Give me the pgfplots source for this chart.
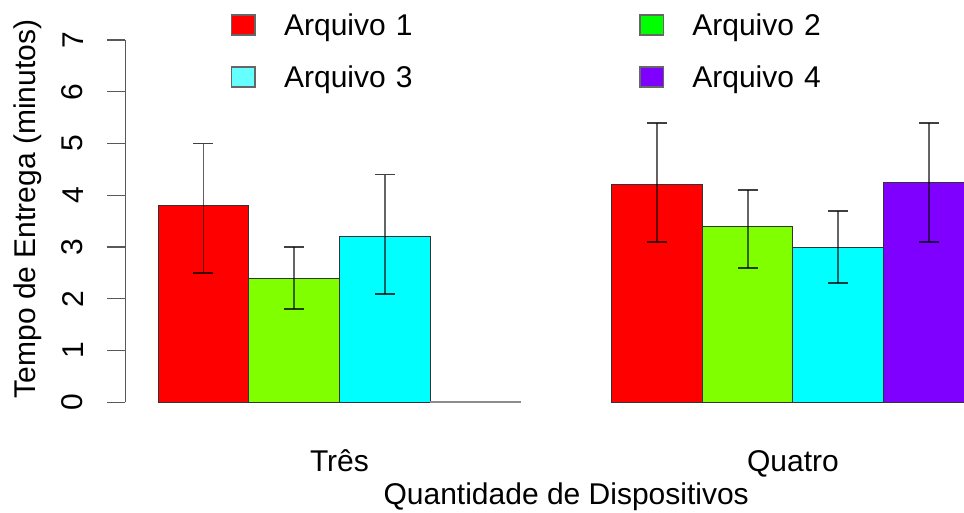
\documentclass[border=0pt]{standalone}
\usepackage{pgfplots}
\pgfplotsset{compat=1.18}
\usepackage{pgfplotstable}
\usepackage{fontspec}
\setmainfont{Liberation Sans}

% bar fills
\definecolor{barUm}{HTML}{FF0000}
\definecolor{barDois}{HTML}{80FF00}
\definecolor{barTres}{HTML}{00FFFF}
\definecolor{barQuatro}{HTML}{8000FF}
% legend key fills
\definecolor{legUm}{HTML}{FF0000}
\definecolor{legDois}{HTML}{00FF00}
\definecolor{legTres}{HTML}{66FFFF}
\definecolor{legQuatro}{HTML}{8000FF}

% x = bar centre, y = mean, ep / em = upper / lower error
\pgfplotstableread{
x   y    ep   em
1.5 3.8  1.2  1.3
6.5 4.2  1.2  1.1
}\arqUm
\pgfplotstableread{
x   y    ep   em
2.5 2.4  0.6  0.6
7.5 3.4  0.7  0.8
}\arqDois
\pgfplotstableread{
x   y    ep   em
3.5 3.2  1.2  1.1
8.5 3.0  0.7  0.7
}\arqTres
\pgfplotstableread{
x   y    ep   em
9.5 4.25 1.15 1.15
}\arqQuatro

\begin{document}
\begin{tikzpicture}[font=\fontsize{30bp}{36bp}\selectfont]
\useasboundingbox (0,0) rectangle (964bp,513bp);
\begin{axis}[
  at={(125.4bp,96.2bp)}, anchor=south west,
  scale only axis, width=881.6bp, height=391.3bp,
  xmin=0.64, xmax=10.36, ymin=-0.28, ymax=7.28,
  clip=false,
  axis line style={draw=none},
  xtick={3,8}, xticklabels={Três,Quatro},
  ytick={0,1,...,7},
  xtick pos=bottom, ytick pos=left,
  tick align=outside,
  major tick length=18bp,
  x tick style={draw=none},
  y tick style={draw=black!65, line width=1.3bp},
  /pgf/number format/assume math mode=true,
  tick label style={font=\fontsize{30bp}{36bp}\selectfont},
  yticklabel style={xshift=-24bp, rotate=90, anchor=south, inner sep=0pt},
  xticklabel style={anchor=base, yshift=-37bp, inner sep=0pt},
  xlabel={Quantidade de Dispositivos},
  ylabel={Tempo de Entrega (minutos)},
  label style={font=\fontsize{30bp}{36bp}\selectfont},
  xlabel style={at={(axis description cs:0.5,0)}, anchor=base, yshift=-87.7bp, inner sep=0pt},
  ylabel style={at={(axis description cs:-0.1019,0.5311)}, anchor=base, inner sep=0pt},
  legend columns=2,
  legend cell align=left,
  legend style={at={(axis description cs:0.1194,1.0288)}, anchor=north west,
    draw=none, fill=none, inner sep=0pt, row sep=30.2bp,
    font=\fontsize{30bp}{36bp}\selectfont,
    nodes={inner sep=0pt, anchor=west, text height=21.5bp, text depth=0bp,
           text width=355bp, align=left},
    /tikz/every odd column/.style={column sep=0pt},
    /tikz/every even column/.style={column sep=0pt}},
  legend image code/.code={
    \draw[#1, draw=black!60, line width=1.5bp] (0bp,-10bp) rectangle (23.6bp,10bp);
    \path (52.3bp,0bp);},
  barra/.style={ybar, bar width=1, bar shift=0pt, draw=black!80, line width=1bp, forget plot},
  erro/.style={error bars/.cd, y dir=both, y explicit, error mark=|,
    error bar style={draw=black, opacity=0.6, line width=1.8bp},
    error mark options={draw=black, opacity=0.75, line width=1.8bp, mark size=10bp}},
]
\addplot[barra, fill=barUm, erro] table[x=x, y=y, y error plus=ep, y error minus=em] {\arqUm};
\addplot[barra, fill=barDois, erro] table[x=x, y=y, y error plus=ep, y error minus=em] {\arqDois};
\addplot[barra, fill=barTres, erro] table[x=x, y=y, y error plus=ep, y error minus=em] {\arqTres};
\addplot[barra, fill=barQuatro, erro] table[x=x, y=y, y error plus=ep, y error minus=em] {\arqQuatro};
% empty Arquivo 4 bar in the first group
\addplot[barra, fill=barQuatro, draw=black!45, line width=2bp] coordinates {(4.5,0)};

% left axis line, 0 to 7 only
\draw[black!65, line width=1.3bp] (axis cs:0.64,0) -- (axis cs:0.64,7);

\addlegendimage{fill=legUm}\addlegendentry{Arquivo 1}
\addlegendimage{fill=legDois}\addlegendentry{Arquivo 2}
\addlegendimage{fill=legTres}\addlegendentry{Arquivo 3}
\addlegendimage{fill=legQuatro}\addlegendentry{Arquivo 4}
\end{axis}
\end{tikzpicture}
\end{document}
